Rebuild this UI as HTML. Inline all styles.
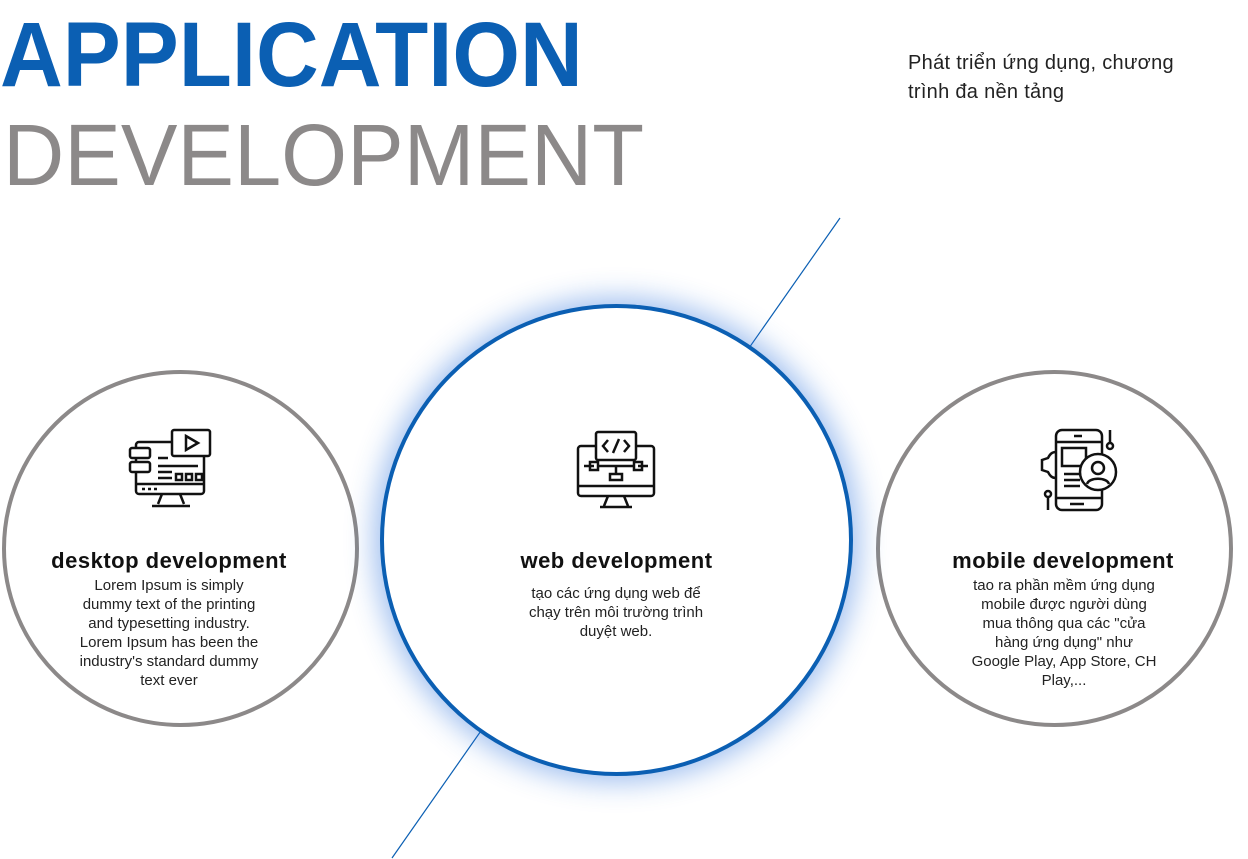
<!DOCTYPE html>
<html><head><meta charset="utf-8"><style>
*{margin:0;padding:0;box-sizing:border-box}
body{width:1248px;height:859px;background:#fff;position:relative;overflow:hidden;font-family:"Liberation Sans",sans-serif}
.abs{position:absolute}
.t1{left:0;top:9px;font-size:92px;font-weight:bold;color:#0b5fb3;transform:scaleX(0.945);transform-origin:0 0;line-height:1;white-space:nowrap}
.t2{left:3px;top:112px;font-size:87px;color:#8c8989;transform:scaleX(0.975);transform-origin:0 0;line-height:1;white-space:nowrap;font-weight:normal}
.sub{left:908px;top:49px;font-size:20px;line-height:29px;color:#222;letter-spacing:0.3px}
.c{position:absolute;border-radius:50%;background:#fff}
.ttl{position:absolute;text-align:center;font-weight:bold;font-size:22px;letter-spacing:0.5px;color:#111;white-space:nowrap}
.bd{position:absolute;text-align:center;font-size:15px;line-height:19px;color:#222;white-space:nowrap}
</style></head><body>
<div class="abs t1">APPLICATION</div>
<div class="abs t2">DEVELOPMENT</div>
<div class="abs sub">Phát triển ứng dụng, chương<br>trình đa nền tảng</div>
<svg class="abs" style="left:0;top:0" width="1248" height="859"><line x1="840" y1="218" x2="392" y2="858" stroke="#0b5fb3" stroke-width="1.2"/></svg>
<div class="c" style="left:2px;top:370px;width:357px;height:357px;border:4px solid #8c8989"></div>
<div class="c" style="left:876px;top:370px;width:357px;height:357px;border:4px solid #8c8989"></div>
<div class="c" style="left:380px;top:304px;width:473px;height:472px;border:4px solid #0b5fb3;box-shadow:0 0 28px 6px rgba(40,110,220,0.45)"></div>
<svg class="abs" style="left:128px;top:428px" width="86" height="86" fill="none" stroke="#111" stroke-width="2.5">
<rect x="8" y="14" width="68" height="52" rx="3"/><rect x="44" y="2" width="38" height="26" rx="2" fill="#fff"/><path d="M58 8 L70 15 L58 22 Z"/>
<rect x="2" y="20" width="20" height="10" rx="2" fill="#fff"/><rect x="2" y="34" width="20" height="10" rx="2" fill="#fff"/>
<path d="M8 56 H76 M14 61h3 M20 61h3 M26 61h3 M30 30h10 M30 38h40 M30 44h14 M30 50h14 M48 46h6v6h-6z M58 46h6v6h-6z M68 46h6v6h-6z M34 66 L30 76 M52 66 L56 76 M24 78 H62"/></svg>
<div class="ttl" style="left:0;width:338px;top:548px">desktop development</div>
<div class="bd" style="left:19px;width:300px;top:576px">Lorem Ipsum is simply<br>dummy text of the printing<br>and typesetting industry.<br>Lorem Ipsum has been the<br>industry's standard dummy<br>text ever</div>
<svg class="abs" style="left:576px;top:430px" width="80" height="80" fill="none" stroke="#111" stroke-width="2.5">
<rect x="2" y="16" width="76" height="50" rx="3"/><rect x="20" y="2" width="40" height="28" rx="2" fill="#fff"/>
<path d="M32 10 l-5 6 5 6 M48 10 l5 6 -5 6 M43 9 l-6 14 M2 56 H78 M8 36h10 M62 36h10 M22 36h36 M40 36v8 M34 44h12v6h-12z M14 32h8v8h-8z M58 32h8v8h-8z M32 66 L28 76 M48 66 L52 76 M24 77 H56"/></svg>
<div class="ttl" style="left:448px;width:337px;top:548px">web development</div>
<div class="bd" style="left:466px;width:300px;top:584px">tạo các ứng dụng web để<br>chạy trên môi trường trình<br>duyệt web.</div>
<svg class="abs" style="left:1034px;top:428px" width="86" height="86" fill="none" stroke="#111" stroke-width="2.5">
<rect x="22" y="2" width="46" height="80" rx="6"/><path d="M22 14H68 M22 70H68 M40 8h8 M36 76h14 M28 20h24v18h-24z M30 46h16 M30 52h16 M30 58h16"/>
<circle cx="64" cy="44" r="18" fill="#fff"/><circle cx="64" cy="40" r="6"/><path d="M53 56c2-7 20-7 22 0"/>
<path d="M22 24c-4 0-6 2-8 6l-6 2v10l6 2c2 4 4 6 8 6"/><circle cx="76" cy="18" r="3"/><path d="M76 2v13 M14 70v12"/><circle cx="14" cy="66" r="3"/></svg>
<div class="ttl" style="left:894px;width:338px;top:548px">mobile development</div>
<div class="bd" style="left:914px;width:300px;top:576px">tao ra phần mềm ứng dụng<br>mobile được người dùng<br>mua thông qua các "cửa<br>hàng ứng dụng" như<br>Google Play, App Store, CH<br>Play,...</div>
</body></html>
